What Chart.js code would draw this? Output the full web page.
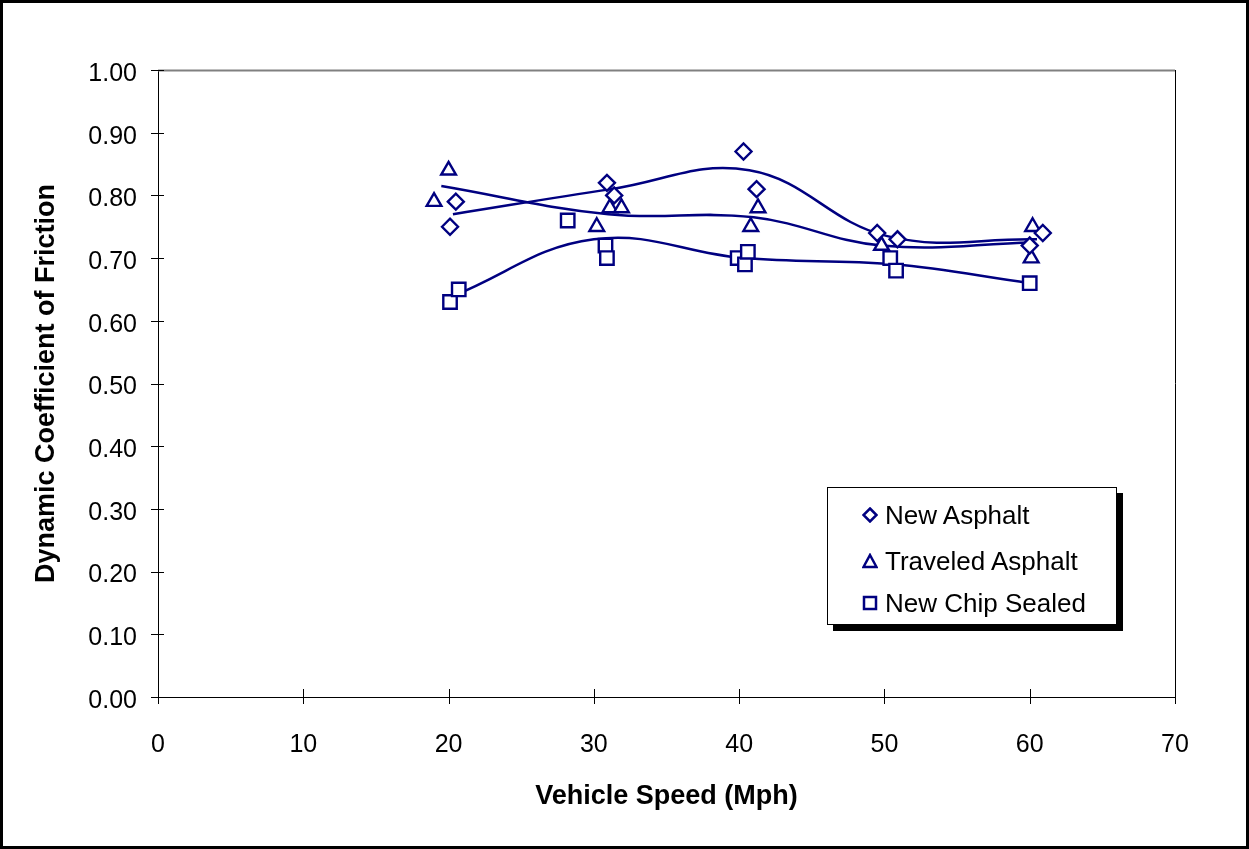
<!DOCTYPE html>
<html>
<head>
<meta charset="utf-8">
<script src="https://cdn.jsdelivr.net/npm/chart.js@4.4.1/dist/chart.umd.min.js"></script>
<style>
html,body{margin:0;padding:0;background:#fff;}
#wrap{position:relative;width:1249px;height:849px;overflow:hidden;}
canvas{display:block;}
#legend{position:absolute;left:827px;top:487px;width:288px;height:136px;border:1px solid #000;background:#fff;box-shadow:6px 6px 0 #000;font-family:"Liberation Sans",Arial,sans-serif;font-size:26px;color:#000;}
.item{position:absolute;left:0;width:288px;height:30px;line-height:30px;white-space:nowrap;}
.item svg{position:absolute;left:34px;top:7px;}
.item span{position:absolute;left:57px;top:0;}
</style>
</head>
<body>
<div id="wrap">
<canvas id="c" width="1249" height="849"></canvas>
<div id="legend">
  <div class="item" style="top:12px"><svg width="16" height="16" viewBox="0 0 16 16"><path d="M8 1.5 L14.5 8 L8 14.5 L1.5 8 Z" fill="#fff" stroke="#000080" stroke-width="2.5"/></svg><span>New Asphalt</span></div>
  <div class="item" style="top:58px"><svg width="16" height="16" viewBox="0 0 16 16"><path d="M8 2 L14.5 14 L1.5 14 Z" fill="#fff" stroke="#000080" stroke-width="2.5"/></svg><span>Traveled Asphalt</span></div>
  <div class="item" style="top:100px"><svg width="16" height="16" viewBox="0 0 16 16"><rect x="2" y="2" width="12" height="12" fill="#fff" stroke="#000080" stroke-width="2.5"/></svg><span>New Chip Sealed</span></div>
</div>
</div>
<script>
// ---- data ----
const naX = [20.1, 20.5, 30.9, 31.4, 40.3, 41.2, 49.5, 50.9, 60.0, 60.9];
const naY = [0.75, 0.79, 0.82, 0.80, 0.87, 0.81, 0.74, 0.73, 0.72, 0.74];
const taX = [19.0, 20.0, 30.2, 31.1, 31.9, 40.8, 41.3, 49.8, 60.2, 60.1];
const taY = [0.79, 0.84, 0.75, 0.78, 0.78, 0.75, 0.78, 0.72, 0.75, 0.70];
const csX = [20.1, 20.7, 28.2, 30.8, 30.9, 39.9, 40.4, 40.6, 50.4, 50.8, 60.0];
const csY = [0.63, 0.65, 0.76, 0.72, 0.70, 0.70, 0.69, 0.71, 0.70, 0.68, 0.66];
// smoothed trend lines
const naTrendX = [20.3, 31.2, 40.7, 50.2, 60.5];
const naTrendY = [0.77, 0.81, 0.84, 0.735, 0.73];
const taTrendX = [19.5, 31.0, 41.0, 49.8, 60.2];
const taTrendY = [0.815, 0.77, 0.765, 0.72, 0.725];
const csTrendX = [20.35, 30.0, 40.3, 50.6, 60.0];
const csTrendY = [0.64, 0.73, 0.70, 0.69, 0.66];
const xTicks = [0, 10, 20, 30, 40, 50, 60, 70];
const yTicks = [0.0, 0.1, 0.2, 0.3, 0.4, 0.5, 0.6, 0.7, 0.8, 0.9, 1.0];
const seriesNames = ['New Asphalt', 'Traveled Asphalt', 'New Chip Sealed'];

const NAVY = '#000080';
const pts = (xs, ys) => xs.map((x, i) => ({x: x, y: ys[i]}));

Chart.defaults.font.family = '"Liberation Sans", Arial, sans-serif';
Chart.defaults.color = '#000';

const decor = {
  id: 'decor',
  beforeDatasetsDraw(chart) {
    const ctx = chart.ctx, a = chart.chartArea;
    const xs = chart.scales.x, ys = chart.scales.y;
    ctx.save();
    ctx.lineWidth = 2;
    ctx.strokeStyle = '#808080';
    ctx.beginPath(); ctx.moveTo(a.left, a.top + 0.5); ctx.lineTo(a.right, a.top + 0.5); ctx.stroke();
    ctx.lineWidth = 1;
    ctx.strokeStyle = '#000';
    ctx.beginPath(); ctx.moveTo(a.right + 0.5, a.top); ctx.lineTo(a.right + 0.5, a.bottom); ctx.stroke();
    yTicks.forEach(v => {
      const py = Math.round(ys.getPixelForValue(v)) + 0.5;
      ctx.beginPath(); ctx.moveTo(a.left - 7, py); ctx.lineTo(a.left + 6, py); ctx.stroke();
    });
    xTicks.forEach(v => {
      const px = Math.round(xs.getPixelForValue(v)) + 0.5;
      ctx.beginPath(); ctx.moveTo(px, a.bottom - 8); ctx.lineTo(px, a.bottom + 7); ctx.stroke();
    });
    ctx.restore();
  },
  afterDraw(chart) {
    const ctx = chart.ctx;
    ctx.save();
    ctx.strokeStyle = '#000';
    ctx.lineWidth = 3;
    ctx.strokeRect(1.5, 1.5, chart.width - 3, chart.height - 3);
    ctx.restore();
  }
};

const markerDs = (name, xs, ys, style, r) => ({
  label: name, data: pts(xs, ys), showLine: false,
  pointStyle: style, pointRadius: r, pointHoverRadius: r,
  pointBackgroundColor: '#fff', pointBorderColor: NAVY, pointBorderWidth: 2.4
});
const trendDs = (xs, ys) => ({
  label: '', data: pts(xs, ys), showLine: true, tension: 0.4,
  borderColor: NAVY, borderWidth: 2.5, pointRadius: 0, pointHoverRadius: 0, fill: false
});

new Chart(document.getElementById('c'), {
  type: 'scatter',
  data: {
    datasets: [
      markerDs(seriesNames[0], naX, naY, 'rectRot', 8),
      markerDs(seriesNames[1], taX, taY, 'triangle', 8.5),
      markerDs(seriesNames[2], csX, csY, 'rect', 9.5)
    ].concat([
      trendDs(naTrendX, naTrendY),
      trendDs(taTrendX, taTrendY),
      trendDs(csTrendX, csTrendY)
    ])
  },
  options: {
    responsive: false,
    animation: false,
    layout: {padding: {left: 0, top: 70, right: 74, bottom: 0}},
    plugins: {legend: {display: false}, tooltip: {enabled: false}},
    scales: {
      x: {
        type: 'linear', min: 0, max: 70,
        afterBuildTicks: s => { s.ticks = xTicks.map(v => ({value: v})); },
        afterFit: s => { s.height = 152; },
        grid: {display: false, drawTicks: false},
        border: {display: true, color: '#000', width: 1},
        ticks: {padding: 33, font: {size: 25}, color: '#000', maxRotation: 0, callback: v => String(v)},
        title: {display: true, text: 'Vehicle Speed (Mph)', font: {size: 27, weight: 'bold'}, color: '#000', padding: {top: 0, bottom: 36}}
      },
      y: {
        type: 'linear', min: 0, max: 1,
        afterBuildTicks: s => { s.ticks = yTicks.map(v => ({value: v})); },
        afterFit: s => { s.width = 158; },
        grid: {display: false, drawTicks: false},
        border: {display: true, color: '#000', width: 1},
        ticks: {padding: 21, labelOffset: 4, font: {size: 25}, color: '#000', callback: v => Number(v).toFixed(2)},
        title: {display: true, text: 'Dynamic Coefficient of Friction', font: {size: 27, weight: 'bold'}, color: '#000', padding: {top: 30, bottom: 0}}
      }
    }
  },
  plugins: [decor]
});
</script>
</body>
</html>
